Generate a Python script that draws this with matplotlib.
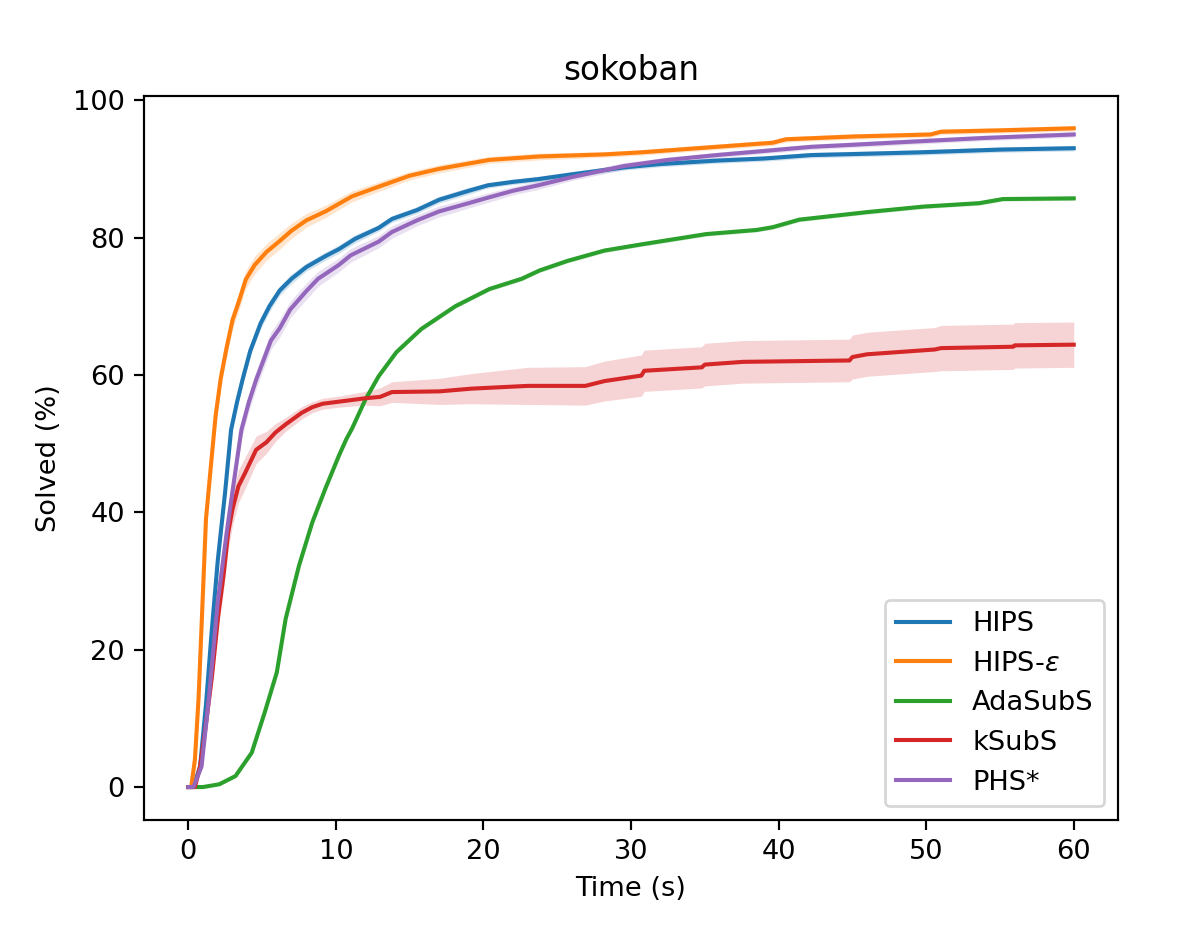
import numpy as np
import matplotlib
matplotlib.use('Agg')
import matplotlib.pyplot as plt

# HIPS
hips_t = [0, 0.35, 0.8, 1.2, 1.6, 2.0, 2.5, 2.9, 3.3, 3.7, 4.2, 4.9, 5.5, 6.2, 7.0, 8.0, 9.3, 10.2, 11.3,
          12.9, 13.8, 15.5, 17.0, 19.0, 20.3, 22.0, 23.7, 26.0, 29.5, 32.0, 35.8, 39.0, 42.2, 46.0, 49.6, 55.0, 60.0]
hips_y = [0, 0, 3, 12, 23, 33, 43, 52, 56, 59.5, 63.5, 67.5, 70, 72.3, 74, 75.7, 77.3, 78.3, 79.8,
          81.4, 82.7, 84, 85.5, 86.8, 87.6, 88.1, 88.5, 89.2, 90.2, 90.7, 91.2, 91.5, 92.0, 92.2, 92.4, 92.8, 93.0]
hips_err = [0, 0, 0.5, 0.8, 0.8, 0.8, 0.8, 0.8, 0.8, 0.8, 0.8, 0.8, 0.8, 0.7, 0.7, 0.6, 0.6, 0.6, 0.6,
            0.5, 0.5, 0.5, 0.5, 0.5, 0.4, 0.4, 0.4, 0.4, 0.4, 0.4, 0.4, 0.4, 0.4, 0.4, 0.4, 0.4, 0.4]

# HIPS-eps
eps_t = [0, 0.2, 0.45, 0.7, 0.95, 1.2, 1.5, 1.85, 2.2, 2.6, 3.0, 3.4, 3.9, 4.5, 5.3, 6.2, 7.0, 8.0, 9.3,
         11.1, 12.9, 15.0, 17.0, 20.4, 23.8, 28.2, 30.7, 34.5, 39.6, 40.5, 45.0, 50.3, 51.0, 55.0, 60.0]
eps_y = [0, 0, 4, 13, 26, 39, 46, 54, 59.5, 64, 68, 70.5, 73.9, 76, 77.9, 79.5, 81, 82.5, 83.8,
         86, 87.4, 89, 90, 91.3, 91.8, 92.1, 92.4, 93, 93.8, 94.3, 94.7, 95.0, 95.4, 95.6, 95.9]
eps_err = [0, 0, 0.8, 1.0, 1.2, 1.3, 1.3, 1.3, 1.3, 1.3, 1.3, 1.3, 1.3, 1.3, 1.2, 1.2, 1.1, 1.0, 0.9,
           0.8, 0.7, 0.6, 0.6, 0.5, 0.5, 0.4, 0.4, 0.4, 0.4, 0.4, 0.4, 0.4, 0.4, 0.4, 0.4]

# AdaSubS
ada_t = [0, 1.0, 2.1, 3.2, 4.3, 5.2, 6.0, 6.6, 7.5, 8.4, 9.3, 10.2, 10.7, 11.1, 12.0, 12.9, 14.1, 15.8,
         18.1, 20.4, 22.6, 23.8, 25.7, 28.2, 30.7, 35.1, 38.5, 39.6, 41.4, 46.0, 49.8, 53.6, 55.2, 60.0]
ada_y = [0, 0, 0.4, 1.6, 5, 11, 16.7, 24.5, 32.2, 38.5, 43.5, 48.2, 50.6, 52.2, 56.4, 59.8, 63.3, 66.7,
         70, 72.5, 74, 75.2, 76.6, 78.1, 79, 80.5, 81.1, 81.5, 82.6, 83.7, 84.5, 85, 85.6, 85.7]
ada_err = [0, 0, 0.1, 0.2, 0.3, 0.3, 0.3, 0.3, 0.3, 0.3, 0.3, 0.3, 0.3, 0.3, 0.3, 0.3, 0.3, 0.3,
           0.3, 0.3, 0.3, 0.3, 0.3, 0.3, 0.3, 0.3, 0.3, 0.3, 0.3, 0.3, 0.3, 0.3, 0.3, 0.3]

# kSubS
ksub_t = [0, 0.45, 0.8, 1.13, 1.6, 2.03, 2.4, 2.7, 3.0, 3.4, 3.8, 4.6, 5.3, 5.9, 6.6, 7.7, 8.4, 9.1,
          10.2, 12.0, 13.0, 13.8, 17.0, 19.2, 23.0, 26.9, 28.2, 30.7, 30.9, 34.8, 35.0, 37.6, 44.8, 45.0,
          46.0, 50.6, 51.0, 55.9, 56.0, 60.0]
ksub_y = [0, 0, 3, 8, 16, 25, 31, 37, 40.5, 43.8, 45.5, 49.1, 50.2, 51.6, 52.8, 54.5, 55.3, 55.8,
          56.1, 56.6, 56.8, 57.5, 57.6, 58.0, 58.4, 58.4, 59.1, 59.9, 60.6, 61.1, 61.5, 61.9, 62.1, 62.6,
          63.0, 63.7, 63.9, 64.1, 64.3, 64.4]
ksub_err = [0, 0, 0.8, 1.2, 1.6, 2.0, 2.2, 2.4, 2.4, 2.4, 2.3, 2.0, 1.6, 1.3, 1.0, 0.9, 0.8, 0.8,
            0.8, 1.0, 1.3, 1.5, 1.9, 2.2, 2.7, 2.8, 2.9, 3.0, 3.0, 3.0, 3.1, 3.1, 3.1, 3.2,
            3.2, 3.2, 3.3, 3.3, 3.3, 3.3]

# PHS*
phs_t = [0, 0.35, 0.9, 1.4, 2.0, 2.6, 3.1, 3.6, 4.1, 4.6, 5.6, 6.2, 6.9, 8.0, 8.8, 10.2, 11.0, 12.9, 13.8,
         15.5, 17.0, 19.0, 20.3, 22.0, 23.7, 26.0, 29.5, 32.5, 35.8, 39.0, 42.2, 45.0, 48.5, 54.0, 60.0]
phs_y = [0, 0, 3, 13, 27, 37, 44.6, 52, 56, 59.3, 65, 66.8, 69.5, 72.2, 74, 76, 77.4, 79.4, 80.8,
         82.5, 83.8, 85, 85.8, 86.8, 87.6, 88.8, 90.4, 91.3, 92, 92.6, 93.2, 93.5, 93.9, 94.5, 95.0]
phs_err = [0, 0, 0.6, 1.0, 1.2, 1.3, 1.3, 1.3, 1.3, 1.3, 1.3, 1.3, 1.2, 1.2, 1.1, 1.0, 1.0, 0.9, 0.9,
           0.8, 0.8, 0.7, 0.7, 0.6, 0.6, 0.5, 0.5, 0.4, 0.4, 0.4, 0.4, 0.4, 0.4, 0.4, 0.4]

series = [
    ('HIPS', hips_t, hips_y, hips_err, 'tab:blue'),
    (r'HIPS-$\varepsilon$', eps_t, eps_y, eps_err, 'tab:orange'),
    ('AdaSubS', ada_t, ada_y, ada_err, 'tab:green'),
    ('kSubS', ksub_t, ksub_y, ksub_err, 'tab:red'),
    ('PHS*', phs_t, phs_y, phs_err, 'tab:purple'),
]

fig = plt.figure(figsize=(1196 / 196, 925 / 196), dpi=196)
ax = fig.add_axes([0.1204, 0.1135, 0.8144, 0.7827])

for name, t, y, err, c in series:
    t = np.array(t)
    y = np.array(y)
    err = np.array(err)
    ax.plot(t, y, color=c, label=name, lw=1.5)
    ax.fill_between(t, y - err, y + err, color=c, alpha=0.2, lw=0)

ax.set_xlim(-3, 63)
ax.set_ylim(-4.8, 100.6)
ax.set_xlabel('Time (s)')
ax.set_ylabel('Solved (%)')
ax.set_title('sokoban')
ax.legend(loc='lower right')

fig.savefig('out.png', dpi=196)
